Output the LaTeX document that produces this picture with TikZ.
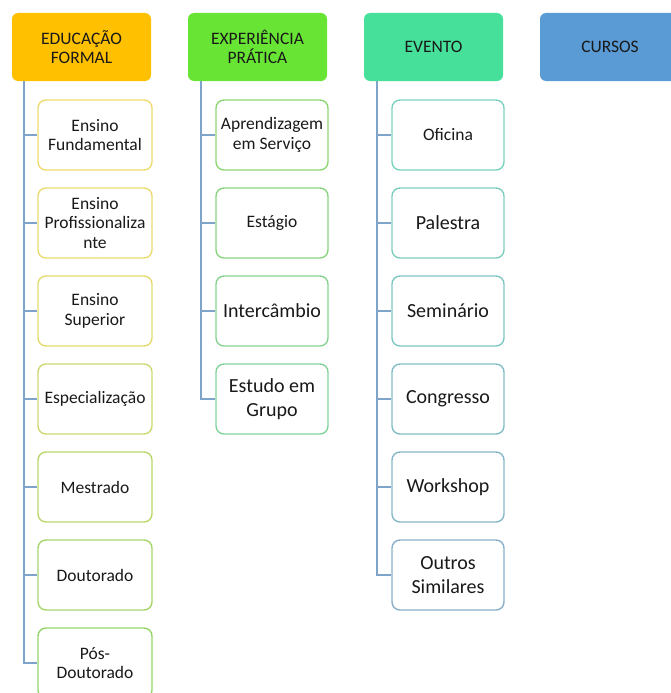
\documentclass[tikz,border=0pt]{standalone}
\usepackage{fontspec}
\setmainfont{Carlito}
\definecolor{hdorange}{HTML}{FFC000}
\definecolor{hdgreen}{RGB}{104,229,52}
\definecolor{hdmint}{RGB}{70,224,155}
\definecolor{hdblue}{HTML}{5B9BD5}
\definecolor{linkblue}{RGB}{126,164,204}
\definecolor{yelbd}{RGB}{238,220,112}
\definecolor{grnbd}{RGB}{150,213,106}
\definecolor{grnbdb}{RGB}{142,214,118}
\definecolor{tealbd}{RGB}{130,210,165}
\definecolor{tealbdb}{RGB}{124,210,190}
\definecolor{bluebd}{RGB}{136,176,202}

\begin{document}
\begin{tikzpicture}[x=1pt, y=-1pt,
	head/.style={rectangle, rounded corners=6pt, minimum width=139pt, minimum height=68pt,
		align=center, text=black!90, font=\fontsize{17.5}{19.5}\selectfont},
	item/.style={rectangle, rounded corners=8pt, fill=white, line width=1.4pt,
		minimum width=112pt, minimum height=70pt, inner sep=2pt, align=center, text=black!90},
	link/.style={draw=linkblue, line width=1.4pt}]
	\useasboundingbox (0,0) rectangle (671,693);
	% headers
	\node[head, fill=hdorange] (edu) at (81.5,47) {EDUCAÇÃO\\FORMAL};
	\node[head, fill=hdgreen] (exp) at (257.5,47) {EXPERIÊNCIA\\PRÁTICA};
	\node[head, fill=hdmint] (evt) at (433.5,47) {EVENTO};
	\node[head, fill=hdblue, minimum width=140pt] (cur) at (610,47) {CURSOS};
	% educação formal
	\foreach \t/\p [count=\i] in {{Ensino\\Fundamental}/100, {Ensino\\Profissionaliza\\nte}/96,
		{Ensino\\Superior}/88, {Especialização}/62, {Mestrado}/40, {Doutorado}/18, {Pós-\\Doutorado}/0}
		\node[item, minimum width=114pt, draw=yelbd!\p!grnbd, font=\fontsize{17.5}{19.5}\selectfont]
			(f\i) at (95,{135+88*(\i-1)}) {\t};
	\foreach \i in {1,...,7}
		\draw[link] ([xshift=12pt]edu.south west) |- (f\i.west);
	% experiência prática
	\foreach \t/\fs/\bs/\p [count=\i] in {{Aprendizagem\\em Serviço}/17.5/19.5/100, {Estágio}/17.5/19.5/75,
		{Intercâmbio}/20/23.5/45, {Estudo em\\Grupo}/20/23.5/15}
		\node[item, draw=grnbdb!\p!tealbd, font=\fontsize{\fs}{\bs}\selectfont]
			(p\i) at (272,{135+88*(\i-1)}) {\t};
	\foreach \i in {1,...,4}
		\draw[link] ([xshift=13pt]exp.south west) |- (p\i.west);
	% evento
	\foreach \t/\fs/\bs/\p [count=\i] in {{Oficina}/17.5/19.5/100, {Palestra}/20/23.5/85,
		{Seminário}/20/23.5/65, {Congresso}/20/23.5/40, {Workshop}/20/23.5/20, {Outros\\Similares}/20/23.5/0}
		\node[item, draw=tealbdb!\p!bluebd, font=\fontsize{\fs}{\bs}\selectfont]
			(e\i) at (448,{135+88*(\i-1)}) {\t};
	\foreach \i in {1,...,6}
		\draw[link] ([xshift=13pt]evt.south west) |- (e\i.west);
\end{tikzpicture}
\end{document}
